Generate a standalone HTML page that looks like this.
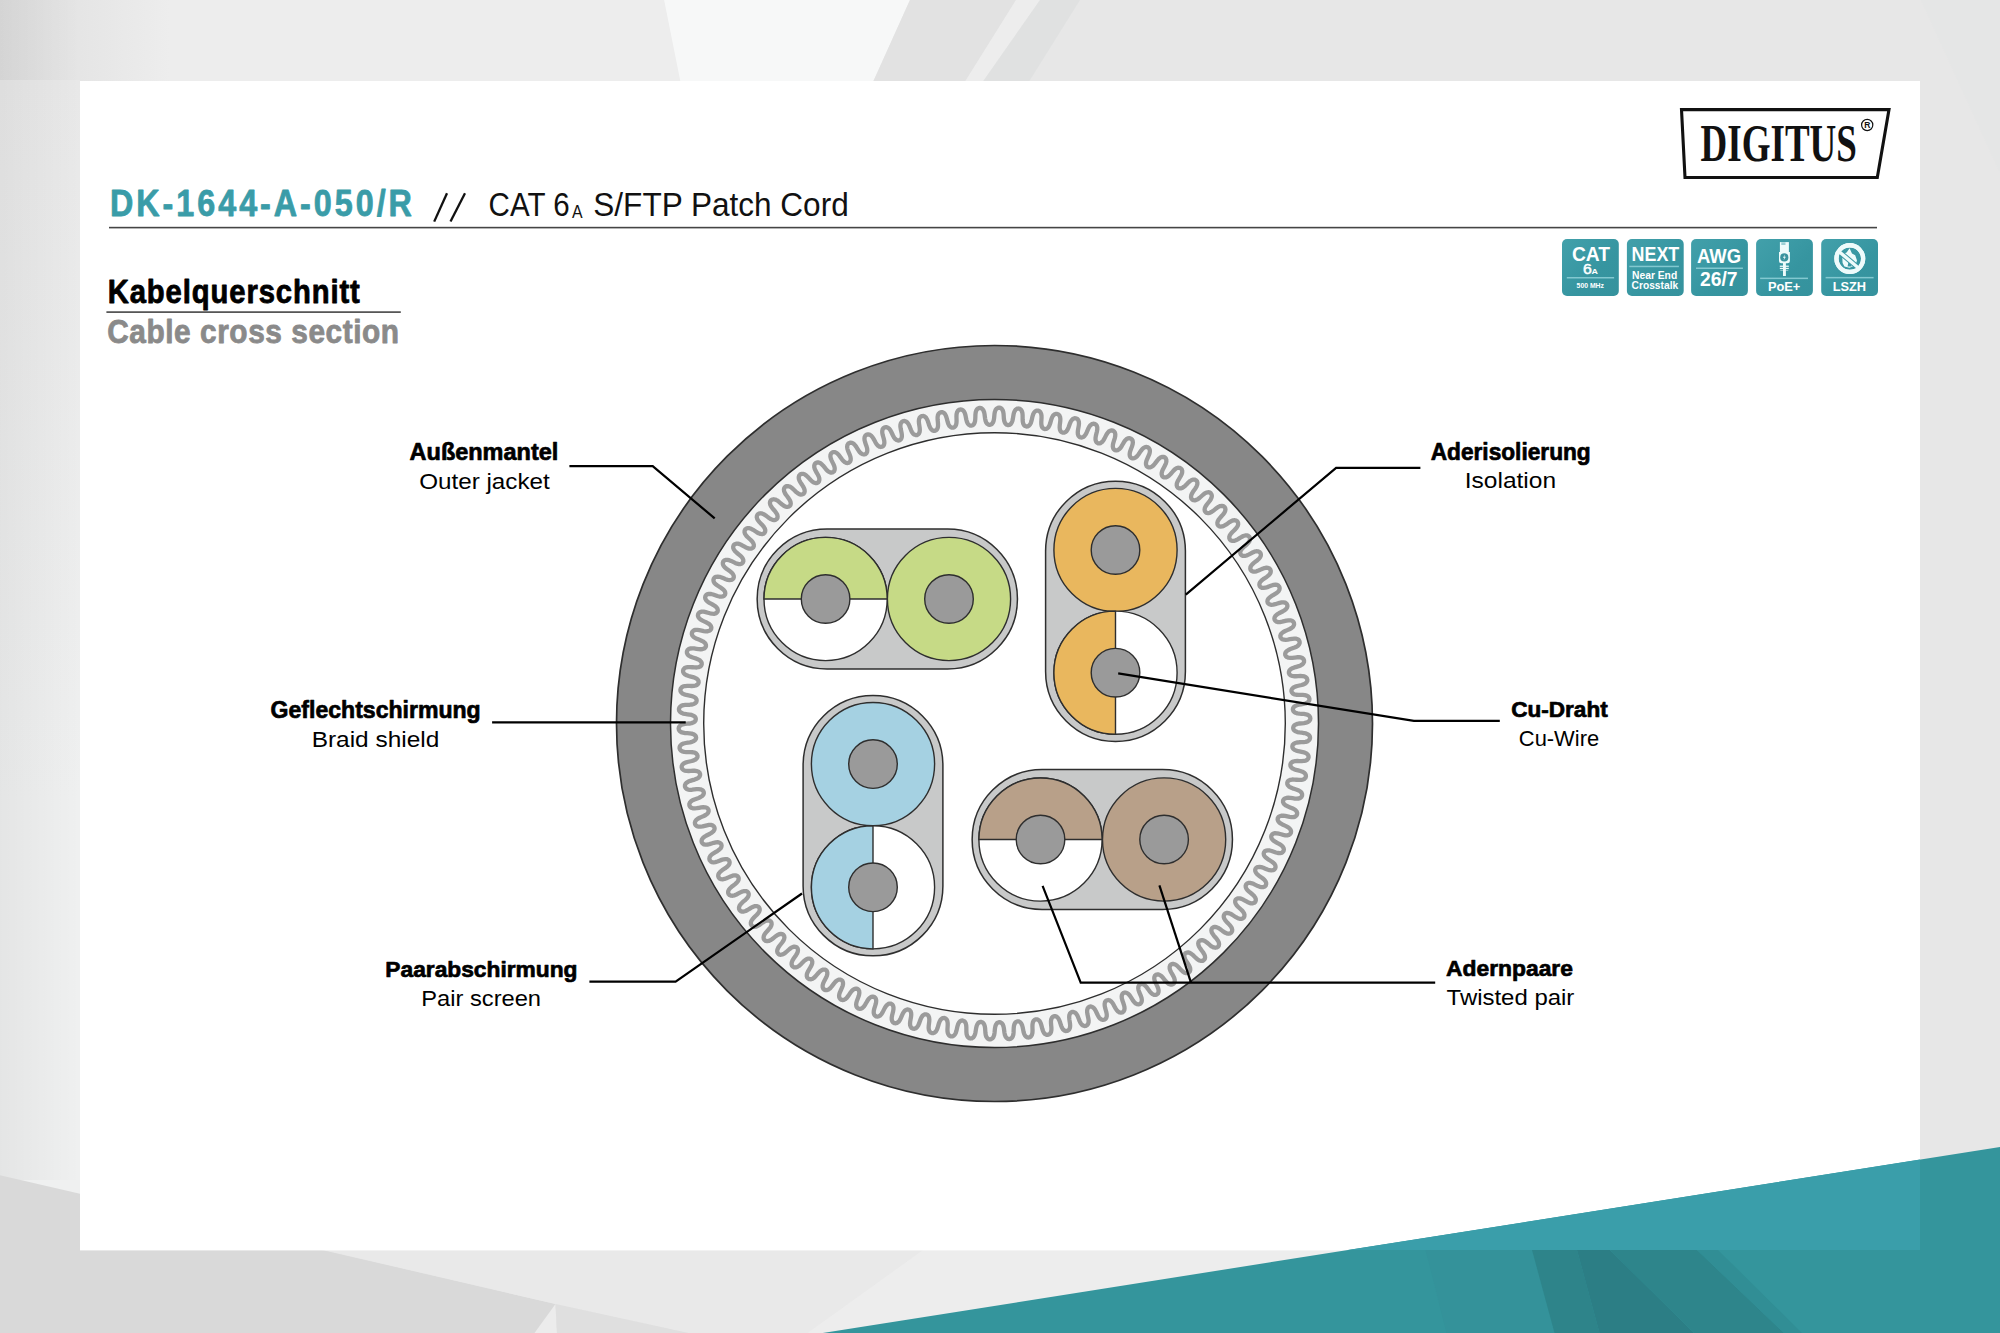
<!DOCTYPE html>
<html><head><meta charset="utf-8"><title>DK-1644-A-050/R Cable cross section</title>
<style>
html,body{margin:0;padding:0;background:#e7e7e7;}
body{width:2000px;height:1333px;overflow:hidden;font-family:"Liberation Sans",sans-serif;}
svg{display:block;}
</style></head>
<body>
<svg width="2000" height="1333" viewBox="0 0 2000 1333">
<defs><linearGradient id="bgL" x1="0" y1="0" x2="1" y2="1"><stop offset="0" stop-color="#e3e3e3"/><stop offset="0.5" stop-color="#ececec"/><stop offset="1" stop-color="#eeefef"/></linearGradient><linearGradient id="badge" x1="0" y1="0" x2="1" y2="1"><stop offset="0" stop-color="#42a0aa"/><stop offset="0.4" stop-color="#3a99a4"/><stop offset="0.6" stop-color="#3695a0"/><stop offset="1" stop-color="#35929d"/></linearGradient></defs>
<rect x="0" y="0" width="2000" height="1333" fill="#e7e7e7"/>
<defs><linearGradient id="topL" gradientUnits="userSpaceOnUse" x1="0" y1="0" x2="170" y2="0"><stop offset="0" stop-color="#dedede"/><stop offset="1" stop-color="#ededed"/></linearGradient><linearGradient id="colL" gradientUnits="userSpaceOnUse" x1="0" y1="80" x2="0" y2="800"><stop offset="0" stop-color="#e8e8e8"/><stop offset="1" stop-color="#eff0f0"/></linearGradient><linearGradient id="colLh" gradientUnits="userSpaceOnUse" x1="0" y1="0" x2="80" y2="0"><stop offset="0" stop-color="#000" stop-opacity="0.045"/><stop offset="1" stop-color="#000" stop-opacity="0"/></linearGradient></defs>
<polygon points="0,0 664,0 680.2,81 0,81" fill="url(#topL)"/>
<rect x="0" y="80" width="80" height="1170" fill="url(#colL)"/>
<rect x="0" y="0" width="80" height="1180" fill="url(#colLh)"/>
<polygon points="664,0 910,0 873.5,81 680.2,81" fill="#f7f8f8"/>
<polygon points="910,0 1016,0 965.4,81 873.5,81" fill="#e2e2e2"/>
<polygon points="1016,0 1040,0 983.3,81 965.4,81" fill="#ededed"/>
<polygon points="1040,0 1080,0 1029.4,81 983.3,81" fill="#e0e1e1"/>
<polygon points="1921,0 2000,0 2000,173" fill="#e5e6e6"/>
<polygon points="0,1175.3 555.5,1304 557,1333 0,1333" fill="#d9d9d9"/>
<polygon points="0,1250 923,1250 807.5,1333 688.5,1333 555.5,1304 324.5,1250" fill="#e9e9e9"/>
<polygon points="555.5,1304 534.5,1333 557,1333" fill="#ececec"/>
<polygon points="555.5,1304 688.5,1333 557,1333" fill="#dfdfdf"/>
<polygon points="923,1250 1920,1250 1920,1333 807.5,1333" fill="#ededed"/>
<polygon points="1920,1150 2000,1150 2000,1333 1920,1333" fill="#e7e7e7"/>
<rect x="80" y="81" width="1840" height="1169.4" fill="#ffffff"/>
<polygon points="822.8,1333 2000,1147.0 2000,1333" fill="#34959c"/>
<polygon points="1348.1,1250 1920,1159.6 1920,1250" fill="#3a9eaa"/>
<polygon points="1425.5,1250 1532,1250 1554.5,1333 1446.5,1333" fill="#34929a"/>
<polygon points="1532,1250 1577,1250 1599.5,1333 1554.5,1333" fill="#2e848a"/>
<polygon points="1577,1250 1610,1250 1694,1333 1599.5,1333" fill="#2c7e85"/>
<polygon points="1610,1250 1697,1250 1784,1333 1694,1333" fill="#2e858b"/>
<polygon points="1697,1250 1718,1250 1802,1333 1784,1333" fill="#318e95"/>
<text transform="matrix(0.87 0 0 1 110.00 215.60)" x="0" y="0" font-family="Liberation Sans" font-weight="bold" font-size="37.10" letter-spacing="3.435" fill="#3a9ca8"  stroke="#3a9ca8" stroke-width="0.8" stroke-linejoin="round">DK-1644-A-050/R</text>
<line x1="434.2" y1="221.6" x2="447" y2="193.3" stroke="#111" stroke-width="2.3"/>
<line x1="450.5" y1="221.6" x2="465" y2="193.3" stroke="#111" stroke-width="2.3"/>
<text x="488.60" y="216.10" font-family="Liberation Sans" font-weight="normal" font-size="32.61" textLength="80.98" lengthAdjust="spacingAndGlyphs" fill="#111" >CAT 6</text>
<text x="571.90" y="218.40" font-family="Liberation Sans" font-weight="normal" font-size="17.97" textLength="10.59" lengthAdjust="spacingAndGlyphs" fill="#111" >A</text>
<text x="593.30" y="216.10" font-family="Liberation Sans" font-weight="normal" font-size="32.61" textLength="255.43" lengthAdjust="spacingAndGlyphs" fill="#111" >S/FTP Patch Cord</text>
<rect x="109" y="226.8" width="1768" height="1.6" fill="#454545"/>
<text transform="matrix(0.9 0 0 1 107.70 302.80)" x="0" y="0" font-family="Liberation Sans" font-weight="bold" font-size="32.46" letter-spacing="1.012" fill="#000"  stroke="#000" stroke-width="0.8" stroke-linejoin="round">Kabelquerschnitt</text>
<rect x="106.4" y="311.3" width="294.4" height="1.6" fill="#454545"/>
<text transform="matrix(0.92 0 0 1 107.20 342.80)" x="0" y="0" font-family="Liberation Sans" font-weight="bold" font-size="32.46" letter-spacing="0.594" fill="#8a8a8a"  stroke="#8a8a8a" stroke-width="0.8" stroke-linejoin="round">Cable cross section</text>
<polygon points="1681.5,109.6 1889,109.6 1877.3,177.5 1685,177.5" fill="none" stroke="#111" stroke-width="3.1" stroke-linejoin="miter"/>
<text x="1700.60" y="160.90" font-family="Liberation Serif" font-weight="bold" font-size="51.91" textLength="156.25" lengthAdjust="spacingAndGlyphs" fill="#111" >DIGITUS</text>
<circle cx="1867.2" cy="125" r="5.6" fill="none" stroke="#111" stroke-width="1.2"/>
<text x="1867.2" y="128.3" font-family="Liberation Sans" font-weight="bold" font-size="8.5" text-anchor="middle" fill="#111">R</text>
<rect x="1562.0" y="239.1" width="56.8" height="56.8" rx="5" fill="url(#badge)"/>
<rect x="1626.9" y="239.1" width="56.8" height="56.8" rx="5" fill="url(#badge)"/>
<rect x="1691.1" y="239.1" width="56.8" height="56.8" rx="5" fill="url(#badge)"/>
<rect x="1756.1" y="239.1" width="56.8" height="56.8" rx="5" fill="url(#badge)"/>
<rect x="1821.2" y="239.1" width="56.8" height="56.8" rx="5" fill="url(#badge)"/>
<text x="1571.90" y="260.70" font-family="Liberation Sans" font-weight="bold" font-size="21.01" textLength="38.12" lengthAdjust="spacingAndGlyphs" fill="#fff" >CAT</text>
<text x="1583.00" y="273.90" font-family="Liberation Sans" font-weight="normal" font-size="14.78" textLength="8.82" lengthAdjust="spacingAndGlyphs" fill="#fff"  stroke="#fff" stroke-width="0.5" stroke-linejoin="round">6</text>
<text x="1591.50" y="273.90" font-family="Liberation Sans" font-weight="bold" font-size="7.83" textLength="6.40" lengthAdjust="spacingAndGlyphs" fill="#fff" >A</text>
<rect x="1566.8" y="277" width="47.3" height="1.5" fill="#82c8d0"/>
<text x="1576.60" y="288.00" font-family="Liberation Sans" font-weight="bold" font-size="6.81" textLength="27.39" lengthAdjust="spacingAndGlyphs" fill="#fff" >500 MHz</text>
<text x="1631.60" y="261.00" font-family="Liberation Sans" font-weight="bold" font-size="20.00" textLength="47.59" lengthAdjust="spacingAndGlyphs" fill="#fff" >NEXT</text>
<rect x="1629.3" y="265.7" width="49.6" height="1.5" fill="#82c8d0"/>
<text x="1632.00" y="278.90" font-family="Liberation Sans" font-weight="bold" font-size="10.72" textLength="45.20" lengthAdjust="spacingAndGlyphs" fill="#fff" >Near End</text>
<text x="1631.60" y="288.70" font-family="Liberation Sans" font-weight="bold" font-size="10.80" textLength="46.58" lengthAdjust="spacingAndGlyphs" fill="#fff" >Crosstalk</text>
<text x="1697.00" y="262.90" font-family="Liberation Sans" font-weight="bold" font-size="20.00" textLength="44.08" lengthAdjust="spacingAndGlyphs" fill="#fff" >AWG</text>
<rect x="1696" y="267.5" width="46.9" height="1.5" fill="#82c8d0"/>
<text x="1700.00" y="285.80" font-family="Liberation Sans" font-weight="bold" font-size="19.57" textLength="37.58" lengthAdjust="spacingAndGlyphs" fill="#fff" >26/7</text>
<g fill="#eefbfb"><rect x="1779.9" y="242.1" width="9" height="10"/><path d="M1779,251.9 L1789.9,251.9 L1789.9,261 Q1789.9,263.3 1787.5,263.3 L1781.4,263.3 Q1779,263.3 1779,261 Z"/><rect x="1779.8" y="265.6" width="9" height="1.3"/><rect x="1779.8" y="267.8" width="9" height="1.3"/><rect x="1780.3" y="270" width="8" height="1" opacity="0.45"/><rect x="1783" y="263" width="2.9" height="13"/></g>
<rect x="1781.3" y="242.4" width="4.2" height="2.6" fill="#3a9aa5" opacity="0.45"/>
<circle cx="1784.3" cy="257.4" r="4.1" fill="#3a939e"/>
<path d="M1785.2,254.2 L1782.9,257.8 L1784.4,257.8 L1783.5,260.6 L1785.9,256.8 L1784.4,256.8 Z" fill="#eefbfb"/>
<rect x="1760.1" y="277.6" width="47.9" height="1.5" fill="#82c8d0"/>
<text x="1767.90" y="290.70" font-family="Liberation Sans" font-weight="bold" font-size="13.19" textLength="32.38" lengthAdjust="spacingAndGlyphs" fill="#fff" >PoE+</text>
<circle cx="1849.8" cy="258.6" r="13.35" fill="none" stroke="#eefbfb" stroke-width="4.3"/>
<path d="M1842.6,263 L1842.3,258 L1844.4,253.6 L1846.6,252.6 L1849.6,248.2 L1852,253.4 L1855.2,255.3 L1857,260.5 L1855.4,265.6 L1849.5,267.8 L1844.4,266.6 Z" fill="#eefbfb"/>
<path d="M1847.6,266.5 L1848.3,262.8 L1849.4,260.8 L1850.6,263.2 L1851.6,266.5 Z" fill="#3a98a3"/>
<line x1="1838.6" y1="251.2" x2="1857.6" y2="267.2" stroke="#3a98a3" stroke-width="5.4"/>
<line x1="1838.6" y1="251.2" x2="1857.6" y2="267.2" stroke="#eefbfb" stroke-width="3.4"/>
<circle cx="1849.8" cy="258.6" r="13.35" fill="none" stroke="#eefbfb" stroke-width="4.3"/>
<rect x="1825.6" y="276.9" width="48" height="1.5" fill="#82c8d0"/>
<text x="1832.70" y="290.70" font-family="Liberation Sans" font-weight="bold" font-size="13.62" textLength="33.41" lengthAdjust="spacingAndGlyphs" fill="#fff" >LSZH</text>
<circle cx="994.5" cy="723.5" r="378" fill="#878787" stroke="#2e2e2e" stroke-width="1.7"/>
<circle cx="994.5" cy="723.5" r="324" fill="#f3f4f4" stroke="#2e2e2e" stroke-width="1.5"/>
<path d="M999.13,407.63 L1000.52,407.95 L1001.74,408.84 L1002.67,410.23 L1003.27,412.02 L1003.59,414.11 L1003.74,416.34 L1003.88,418.57 L1004.18,420.65 L1004.75,422.46 L1005.62,423.85 L1006.76,424.76 L1008.07,425.11 L1009.41,424.88 L1010.63,424.08 L1011.63,422.77 L1012.35,421.03 L1012.84,418.98 L1013.19,416.77 L1013.54,414.56 L1014.05,412.51 L1014.80,410.78 L1015.86,409.48 L1017.15,408.71 L1018.57,408.52 L1019.94,408.92 L1021.10,409.88 L1021.94,411.32 L1022.43,413.15 L1022.61,415.25 L1022.63,417.49 L1022.64,419.73 L1022.81,421.83 L1023.26,423.66 L1024.05,425.11 L1025.13,426.08 L1026.42,426.51 L1027.77,426.36 L1029.03,425.64 L1030.11,424.39 L1030.94,422.70 L1031.55,420.68 L1032.04,418.50 L1032.53,416.32 L1033.15,414.31 L1034.02,412.62 L1035.15,411.39 L1036.49,410.70 L1037.91,410.60 L1039.26,411.08 L1040.36,412.11 L1041.11,413.60 L1041.48,415.46 L1041.54,417.57 L1041.41,419.80 L1041.29,422.03 L1041.33,424.14 L1041.67,426.00 L1042.36,427.49 L1043.38,428.53 L1044.64,429.04 L1045.99,428.97 L1047.30,428.33 L1048.45,427.15 L1049.39,425.51 L1050.12,423.54 L1050.74,421.39 L1051.36,419.24 L1052.11,417.27 L1053.08,415.64 L1054.28,414.48 L1055.66,413.88 L1057.09,413.86 L1058.40,414.43 L1059.44,415.52 L1060.10,417.06 L1060.36,418.94 L1060.28,421.04 L1060.02,423.27 L1059.75,425.49 L1059.67,427.59 L1059.89,429.46 L1060.49,431.00 L1061.45,432.10 L1062.67,432.68 L1064.03,432.70 L1065.37,432.14 L1066.59,431.04 L1067.63,429.46 L1068.48,427.53 L1069.23,425.43 L1069.99,423.32 L1070.86,421.40 L1071.92,419.83 L1073.19,418.75 L1074.61,418.23 L1076.04,418.30 L1077.31,418.95 L1078.28,420.11 L1078.84,421.68 L1078.98,423.57 L1078.78,425.67 L1078.38,427.87 L1077.98,430.07 L1077.76,432.16 L1077.87,434.05 L1078.37,435.62 L1079.26,436.77 L1080.45,437.43 L1081.80,437.54 L1083.18,437.06 L1084.46,436.03 L1085.59,434.52 L1086.56,432.65 L1087.44,430.59 L1088.32,428.54 L1089.31,426.67 L1090.47,425.17 L1091.80,424.17 L1093.25,423.74 L1094.67,423.90 L1095.90,424.63 L1096.80,425.84 L1097.26,427.45 L1097.28,429.34 L1096.95,431.42 L1096.42,433.59 L1095.88,435.76 L1095.54,437.84 L1095.53,439.73 L1095.94,441.33 L1096.75,442.53 L1097.89,443.27 L1099.24,443.45 L1100.64,443.06 L1101.99,442.11 L1103.21,440.67 L1104.29,438.87 L1105.30,436.87 L1106.30,434.87 L1107.40,433.07 L1108.65,431.65 L1110.05,430.73 L1111.52,430.39 L1112.92,430.64 L1114.11,431.44 L1114.93,432.70 L1115.29,434.33 L1115.20,436.23 L1114.74,438.28 L1114.07,440.42 L1113.40,442.55 L1112.93,444.60 L1112.81,446.49 L1113.12,448.11 L1113.85,449.36 L1114.95,450.16 L1116.28,450.43 L1117.70,450.13 L1119.11,449.26 L1120.41,447.90 L1121.61,446.17 L1122.73,444.23 L1123.86,442.30 L1125.07,440.57 L1126.40,439.23 L1127.85,438.40 L1129.34,438.15 L1130.73,438.48 L1131.86,439.35 L1132.60,440.67 L1132.86,442.32 L1132.65,444.20 L1132.07,446.23 L1131.27,448.32 L1130.47,450.40 L1129.88,452.42 L1129.64,454.30 L1129.84,455.93 L1130.50,457.23 L1131.55,458.10 L1132.86,458.45 L1134.30,458.23 L1135.75,457.45 L1137.14,456.17 L1138.44,454.52 L1139.68,452.66 L1140.93,450.80 L1142.24,449.15 L1143.65,447.89 L1145.15,447.15 L1146.65,446.99 L1148.01,447.41 L1149.09,448.35 L1149.75,449.70 L1149.91,451.37 L1149.59,453.24 L1148.88,455.22 L1147.95,457.26 L1147.03,459.29 L1146.31,461.27 L1145.95,463.13 L1146.06,464.77 L1146.64,466.11 L1147.63,467.04 L1148.91,467.47 L1150.36,467.34 L1151.86,466.65 L1153.33,465.46 L1154.73,463.89 L1156.08,462.11 L1157.44,460.33 L1158.85,458.76 L1160.34,457.59 L1161.88,456.95 L1163.38,456.88 L1164.72,457.38 L1165.74,458.39 L1166.31,459.78 L1166.37,461.45 L1165.93,463.29 L1165.10,465.23 L1164.05,467.21 L1163.00,469.18 L1162.16,471.11 L1161.69,472.94 L1161.70,474.59 L1162.19,475.96 L1163.12,476.95 L1164.38,477.46 L1165.84,477.42 L1167.38,476.83 L1168.91,475.73 L1170.40,474.25 L1171.86,472.55 L1173.33,470.86 L1174.83,469.38 L1176.39,468.31 L1177.97,467.75 L1179.48,467.78 L1180.78,468.37 L1181.73,469.43 L1182.22,470.86 L1182.17,472.53 L1181.62,474.34 L1180.67,476.22 L1179.51,478.13 L1178.34,480.04 L1177.38,481.91 L1176.80,483.71 L1176.71,485.36 L1177.12,486.75 L1177.98,487.80 L1179.21,488.38 L1180.66,488.44 L1182.23,487.94 L1183.83,486.94 L1185.42,485.55 L1186.98,483.95 L1188.54,482.35 L1190.13,480.97 L1191.75,479.99 L1193.36,479.53 L1194.87,479.65 L1196.13,480.32 L1197.02,481.44 L1197.42,482.89 L1197.27,484.56 L1196.61,486.33 L1195.54,488.15 L1194.26,489.99 L1192.98,491.82 L1191.91,493.63 L1191.22,495.39 L1191.02,497.02 L1191.34,498.45 L1192.14,499.54 L1193.33,500.20 L1194.78,500.34 L1196.38,499.94 L1198.04,499.04 L1199.70,497.75 L1201.36,496.25 L1203.02,494.75 L1204.69,493.47 L1206.37,492.59 L1208.01,492.24 L1209.50,492.45 L1210.72,493.19 L1211.54,494.36 L1211.84,495.84 L1211.59,497.49 L1210.82,499.23 L1209.65,500.98 L1208.26,502.73 L1206.86,504.48 L1205.68,506.22 L1204.89,507.93 L1204.59,509.55 L1204.82,510.99 L1205.56,512.13 L1206.70,512.86 L1208.14,513.09 L1209.76,512.79 L1211.47,512.00 L1213.21,510.81 L1214.96,509.42 L1216.70,508.02 L1218.45,506.85 L1220.18,506.07 L1221.84,505.82 L1223.31,506.12 L1224.49,506.94 L1225.23,508.16 L1225.44,509.65 L1225.09,511.29 L1224.22,512.97 L1222.94,514.64 L1221.44,516.31 L1219.95,517.96 L1218.66,519.63 L1217.76,521.29 L1217.36,522.89 L1217.51,524.34 L1218.17,525.52 L1219.26,526.32 L1220.68,526.65 L1222.32,526.45 L1224.08,525.75 L1225.89,524.68 L1227.72,523.39 L1229.55,522.11 L1231.37,521.04 L1233.14,520.38 L1234.81,520.23 L1236.26,520.62 L1237.38,521.51 L1238.05,522.77 L1238.17,524.28 L1237.72,525.89 L1236.74,527.51 L1235.37,529.10 L1233.77,530.67 L1232.17,532.23 L1230.78,533.82 L1229.78,535.42 L1229.29,536.99 L1229.35,538.45 L1229.93,539.67 L1230.98,540.53 L1232.37,540.94 L1234.02,540.84 L1235.82,540.26 L1237.69,539.30 L1239.59,538.13 L1241.50,536.96 L1243.38,536.01 L1245.19,535.46 L1246.86,535.41 L1248.29,535.89 L1249.36,536.84 L1249.94,538.15 L1249.97,539.65 L1249.42,541.23 L1248.35,542.79 L1246.88,544.30 L1245.19,545.76 L1243.49,547.23 L1242.01,548.72 L1240.92,550.26 L1240.33,551.80 L1240.29,553.26 L1240.80,554.51 L1241.79,555.44 L1243.16,555.93 L1244.81,555.94 L1246.64,555.47 L1248.57,554.62 L1250.54,553.57 L1252.52,552.52 L1254.45,551.69 L1256.29,551.25 L1257.96,551.30 L1259.36,551.87 L1260.36,552.89 L1260.87,554.22 L1260.81,555.73 L1260.16,557.27 L1258.99,558.76 L1257.43,560.18 L1255.65,561.53 L1253.87,562.89 L1252.30,564.29 L1251.11,565.76 L1250.43,567.26 L1250.31,568.71 L1250.74,569.99 L1251.67,570.98 L1253.01,571.56 L1254.65,571.66 L1256.50,571.31 L1258.48,570.58 L1260.52,569.65 L1262.55,568.73 L1264.54,568.02 L1266.40,567.69 L1268.07,567.85 L1269.42,568.50 L1270.36,569.58 L1270.79,570.94 L1270.63,572.44 L1269.89,573.94 L1268.63,575.36 L1266.98,576.67 L1265.13,577.92 L1263.27,579.16 L1261.61,580.46 L1260.34,581.85 L1259.56,583.31 L1259.35,584.75 L1259.70,586.06 L1260.57,587.10 L1261.87,587.76 L1263.50,587.97 L1265.38,587.72 L1267.39,587.12 L1269.48,586.32 L1271.57,585.52 L1273.59,584.93 L1275.48,584.72 L1277.13,584.98 L1278.44,585.72 L1279.32,586.85 L1279.65,588.24 L1279.41,589.73 L1278.58,591.18 L1277.23,592.51 L1275.51,593.72 L1273.58,594.85 L1271.64,595.98 L1269.91,597.18 L1268.55,598.49 L1267.69,599.89 L1267.39,601.32 L1267.66,602.65 L1268.46,603.74 L1269.72,604.48 L1271.34,604.78 L1273.22,604.66 L1275.27,604.18 L1277.41,603.51 L1279.54,602.84 L1281.60,602.38 L1283.49,602.28 L1285.12,602.64 L1286.39,603.46 L1287.19,604.64 L1287.44,606.05 L1287.10,607.52 L1286.18,608.92 L1284.76,610.17 L1282.96,611.27 L1280.97,612.28 L1278.97,613.28 L1277.17,614.37 L1275.73,615.60 L1274.78,616.94 L1274.39,618.35 L1274.58,619.69 L1275.31,620.83 L1276.52,621.65 L1278.12,622.05 L1280.01,622.04 L1282.09,621.69 L1284.26,621.15 L1286.43,620.62 L1288.51,620.28 L1290.40,620.30 L1292.01,620.76 L1293.22,621.66 L1293.95,622.89 L1294.11,624.31 L1293.69,625.75 L1292.68,627.09 L1291.19,628.25 L1289.32,629.24 L1287.27,630.12 L1285.21,631.01 L1283.35,631.98 L1281.84,633.11 L1280.81,634.40 L1280.34,635.78 L1280.44,637.13 L1281.10,638.31 L1282.26,639.20 L1283.83,639.70 L1285.71,639.81 L1287.81,639.59 L1290.01,639.18 L1292.21,638.78 L1294.30,638.58 L1296.19,638.71 L1297.77,639.27 L1298.93,640.24 L1299.58,641.51 L1299.65,642.94 L1299.13,644.36 L1298.05,645.63 L1296.49,646.70 L1294.57,647.57 L1292.46,648.33 L1290.36,649.08 L1288.43,649.94 L1286.86,650.97 L1285.75,652.20 L1285.19,653.54 L1285.22,654.90 L1285.80,656.12 L1286.90,657.07 L1288.44,657.67 L1290.31,657.90 L1292.42,657.80 L1294.64,657.54 L1296.86,657.27 L1298.96,657.19 L1300.84,657.45 L1302.38,658.10 L1303.47,659.14 L1304.04,660.45 L1304.03,661.88 L1303.43,663.26 L1302.27,664.46 L1300.64,665.43 L1298.67,666.19 L1296.53,666.81 L1294.38,667.43 L1292.41,668.17 L1290.77,669.11 L1289.59,670.26 L1288.95,671.57 L1288.89,672.92 L1289.40,674.18 L1290.44,675.20 L1291.93,675.89 L1293.79,676.23 L1295.90,676.27 L1298.13,676.14 L1300.36,676.01 L1302.47,676.06 L1304.33,676.43 L1305.82,677.18 L1306.85,678.28 L1307.34,679.63 L1307.24,681.05 L1306.55,682.39 L1305.32,683.52 L1303.64,684.39 L1301.62,685.02 L1299.44,685.51 L1297.26,686.00 L1295.25,686.62 L1293.55,687.45 L1292.31,688.53 L1291.59,689.80 L1291.44,691.14 L1291.87,692.43 L1292.85,693.51 L1294.30,694.29 L1296.13,694.74 L1298.23,694.91 L1300.47,694.92 L1302.70,694.93 L1304.80,695.11 L1306.64,695.59 L1308.08,696.43 L1309.04,697.60 L1309.45,698.97 L1309.26,700.38 L1308.49,701.68 L1307.19,702.73 L1305.46,703.49 L1303.41,704.00 L1301.20,704.36 L1298.99,704.71 L1296.95,705.20 L1295.21,705.93 L1293.89,706.93 L1293.10,708.15 L1292.87,709.48 L1293.22,710.79 L1294.13,711.93 L1295.53,712.80 L1297.33,713.37 L1299.42,713.67 L1301.65,713.81 L1303.88,713.96 L1305.96,714.27 L1307.76,714.86 L1309.15,715.79 L1310.04,717.01 L1310.36,718.40 L1310.09,719.80 L1309.24,721.05 L1307.88,722.02 L1306.10,722.68 L1304.03,723.05 L1301.80,723.27 L1299.57,723.49 L1297.50,723.85 L1295.72,724.47 L1294.35,725.39 L1293.48,726.56 L1293.17,727.88 L1293.44,729.21 L1294.27,730.40 L1295.62,731.36 L1297.38,732.03 L1299.44,732.45 L1301.66,732.74 L1303.88,733.02 L1305.94,733.46 L1307.70,734.16 L1309.03,735.17 L1309.84,736.45 L1310.07,737.86 L1309.71,739.24 L1308.79,740.43 L1307.37,741.32 L1305.56,741.86 L1303.47,742.11 L1301.23,742.19 L1299.00,742.27 L1296.90,742.51 L1295.09,743.02 L1293.66,743.84 L1292.72,744.96 L1292.33,746.26 L1292.52,747.60 L1293.28,748.84 L1294.56,749.88 L1296.28,750.66 L1298.31,751.21 L1300.51,751.63 L1302.71,752.05 L1304.74,752.61 L1306.45,753.42 L1307.72,754.52 L1308.45,755.83 L1308.59,757.26 L1308.15,758.61 L1307.15,759.75 L1305.68,760.54 L1303.84,760.97 L1301.73,761.09 L1299.50,761.04 L1297.26,760.98 L1295.16,761.09 L1293.31,761.48 L1291.84,762.22 L1290.84,763.28 L1290.37,764.55 L1290.47,765.90 L1291.15,767.19 L1292.37,768.30 L1294.04,769.19 L1296.03,769.86 L1298.20,770.41 L1300.36,770.97 L1302.36,771.66 L1304.02,772.57 L1305.21,773.74 L1305.86,775.10 L1305.92,776.53 L1305.39,777.86 L1304.33,778.93 L1302.81,779.63 L1300.94,779.95 L1298.84,779.94 L1296.61,779.74 L1294.38,779.55 L1292.28,779.52 L1290.41,779.81 L1288.89,780.45 L1287.82,781.44 L1287.28,782.68 L1287.30,784.04 L1287.90,785.37 L1289.05,786.55 L1290.66,787.54 L1292.61,788.34 L1294.73,789.02 L1296.86,789.71 L1298.81,790.52 L1300.41,791.53 L1301.53,792.77 L1302.09,794.17 L1302.06,795.60 L1301.46,796.89 L1300.33,797.89 L1298.77,798.50 L1296.89,798.70 L1294.79,798.56 L1292.57,798.23 L1290.36,797.90 L1288.26,797.75 L1286.38,797.92 L1284.83,798.47 L1283.70,799.39 L1283.08,800.60 L1283.02,801.95 L1283.54,803.31 L1284.61,804.57 L1286.15,805.65 L1288.05,806.56 L1290.13,807.38 L1292.21,808.20 L1294.11,809.12 L1295.64,810.24 L1296.68,811.54 L1297.16,812.97 L1297.04,814.40 L1296.35,815.65 L1295.17,816.58 L1293.58,817.09 L1291.69,817.18 L1289.60,816.91 L1287.41,816.44 L1285.22,815.97 L1283.13,815.69 L1281.25,815.74 L1279.66,816.20 L1278.48,817.05 L1277.79,818.21 L1277.64,819.56 L1278.07,820.95 L1279.06,822.27 L1280.54,823.45 L1282.38,824.48 L1284.41,825.42 L1286.43,826.36 L1288.27,827.40 L1289.73,828.61 L1290.69,829.98 L1291.08,831.43 L1290.87,832.85 L1290.11,834.06 L1288.87,834.91 L1287.25,835.33 L1285.36,835.29 L1283.29,834.90 L1281.13,834.30 L1278.98,833.70 L1276.91,833.29 L1275.02,833.22 L1273.42,833.58 L1272.18,834.36 L1271.42,835.47 L1271.19,836.81 L1271.54,838.23 L1272.44,839.60 L1273.85,840.87 L1275.62,842.01 L1277.58,843.07 L1279.55,844.14 L1281.31,845.29 L1282.70,846.58 L1283.57,848.01 L1283.87,849.49 L1283.58,850.88 L1282.74,852.04 L1281.45,852.82 L1279.81,853.14 L1277.92,852.99 L1275.88,852.46 L1273.77,851.73 L1271.65,851.00 L1269.62,850.46 L1267.74,850.28 L1266.11,850.54 L1264.83,851.24 L1264.00,852.31 L1263.69,853.63 L1263.95,855.06 L1264.77,856.49 L1266.09,857.84 L1267.79,859.09 L1269.68,860.27 L1271.58,861.46 L1273.27,862.72 L1274.57,864.09 L1275.36,865.57 L1275.57,867.06 L1275.19,868.44 L1274.28,869.55 L1272.95,870.24 L1271.29,870.46 L1269.41,870.19 L1267.41,869.54 L1265.34,868.68 L1263.28,867.82 L1261.28,867.16 L1259.42,866.86 L1257.77,867.02 L1256.46,867.64 L1255.56,868.66 L1255.17,869.95 L1255.34,871.40 L1256.07,872.88 L1257.31,874.31 L1258.92,875.66 L1260.74,876.95 L1262.56,878.25 L1264.17,879.62 L1265.39,881.07 L1266.08,882.59 L1266.19,884.09 L1265.73,885.44 L1264.76,886.49 L1263.38,887.11 L1261.72,887.22 L1259.86,886.83 L1257.90,886.06 L1255.89,885.08 L1253.88,884.09 L1251.93,883.31 L1250.09,882.90 L1248.44,882.96 L1247.09,883.49 L1246.13,884.45 L1245.66,885.72 L1245.74,887.18 L1246.38,888.70 L1247.52,890.20 L1249.05,891.65 L1250.79,893.05 L1252.53,894.46 L1254.05,895.92 L1255.17,897.45 L1255.77,899.01 L1255.79,900.51 L1255.25,901.83 L1254.21,902.82 L1252.80,903.35 L1251.13,903.36 L1249.30,902.86 L1247.39,901.97 L1245.45,900.86 L1243.51,899.76 L1241.60,898.85 L1239.79,898.33 L1238.14,898.29 L1236.76,898.74 L1235.74,899.64 L1235.20,900.88 L1235.19,902.33 L1235.73,903.89 L1236.78,905.46 L1238.22,907.00 L1239.87,908.51 L1241.51,910.02 L1242.94,911.57 L1243.97,913.16 L1244.47,914.76 L1244.40,916.26 L1243.78,917.55 L1242.68,918.47 L1241.24,918.91 L1239.57,918.81 L1237.78,918.21 L1235.93,917.20 L1234.05,915.98 L1232.18,914.75 L1230.34,913.73 L1228.56,913.10 L1226.92,912.95 L1225.51,913.32 L1224.44,914.15 L1223.82,915.36 L1223.72,916.81 L1224.17,918.40 L1225.12,920.03 L1226.46,921.65 L1228.01,923.26 L1229.56,924.87 L1230.89,926.51 L1231.82,928.16 L1232.23,929.78 L1232.06,931.28 L1231.36,932.53 L1230.21,933.38 L1228.74,933.73 L1227.08,933.53 L1225.33,932.81 L1223.54,931.70 L1221.75,930.36 L1219.96,929.02 L1218.18,927.89 L1216.45,927.15 L1214.82,926.90 L1213.39,927.18 L1212.27,927.95 L1211.57,929.11 L1211.38,930.56 L1211.73,932.17 L1212.58,933.85 L1213.82,935.56 L1215.27,937.26 L1216.72,938.96 L1217.95,940.68 L1218.77,942.38 L1219.08,944.03 L1218.82,945.51 L1218.04,946.71 L1216.84,947.49 L1215.36,947.75 L1213.71,947.45 L1212.01,946.63 L1210.29,945.40 L1208.58,943.96 L1206.88,942.51 L1205.17,941.27 L1203.49,940.43 L1201.88,940.08 L1200.43,940.27 L1199.27,940.97 L1198.50,942.08 L1198.23,943.52 L1198.48,945.14 L1199.22,946.88 L1200.35,948.66 L1201.69,950.44 L1203.03,952.24 L1204.15,954.02 L1204.87,955.77 L1205.07,957.43 L1204.73,958.90 L1203.88,960.05 L1202.63,960.75 L1201.13,960.92 L1199.51,960.52 L1197.86,959.59 L1196.22,958.26 L1194.61,956.72 L1193.00,955.17 L1191.37,953.83 L1189.74,952.88 L1188.15,952.43 L1186.70,952.54 L1185.49,953.16 L1184.66,954.23 L1184.30,955.64 L1184.45,957.28 L1185.08,959.06 L1186.10,960.90 L1187.33,962.77 L1188.56,964.64 L1189.57,966.49 L1190.18,968.28 L1190.27,969.95 L1189.84,971.39 L1188.92,972.49 L1187.63,973.12 L1186.13,973.19 L1184.53,972.69 L1182.94,971.66 L1181.39,970.24 L1179.87,968.59 L1178.36,966.95 L1176.82,965.51 L1175.25,964.46 L1173.69,963.92 L1172.23,963.93 L1170.99,964.48 L1170.10,965.50 L1169.65,966.88 L1169.69,968.53 L1170.22,970.34 L1171.12,972.25 L1172.24,974.19 L1173.34,976.13 L1174.24,978.04 L1174.73,979.87 L1174.73,981.54 L1174.20,982.95 L1173.22,983.98 L1171.90,984.53 L1170.39,984.51 L1168.83,983.92 L1167.30,982.79 L1165.84,981.27 L1164.43,979.54 L1163.02,977.80 L1161.57,976.28 L1160.07,975.13 L1158.55,974.50 L1157.09,974.42 L1155.82,974.89 L1154.87,975.85 L1154.33,977.20 L1154.28,978.85 L1154.69,980.69 L1155.47,982.65 L1156.47,984.65 L1157.45,986.66 L1158.23,988.62 L1158.61,990.47 L1158.50,992.14 L1157.89,993.52 L1156.84,994.49 L1155.49,994.96 L1153.99,994.85 L1152.47,994.15 L1151.01,992.94 L1149.65,991.33 L1148.35,989.52 L1147.05,987.70 L1145.69,986.08 L1144.26,984.85 L1142.79,984.12 L1141.34,983.95 L1140.04,984.34 L1139.03,985.24 L1138.41,986.56 L1138.25,988.20 L1138.55,990.07 L1139.22,992.07 L1140.08,994.13 L1140.94,996.19 L1141.60,998.20 L1141.86,1000.07 L1141.65,1001.73 L1140.96,1003.07 L1139.85,1003.97 L1138.48,1004.35 L1136.98,1004.15 L1135.51,1003.37 L1134.13,1002.06 L1132.87,1000.38 L1131.68,998.48 L1130.49,996.59 L1129.24,994.89 L1127.89,993.57 L1126.46,992.75 L1125.03,992.50 L1123.71,992.81 L1122.64,993.64 L1121.94,994.92 L1121.69,996.55 L1121.87,998.43 L1122.41,1000.46 L1123.15,1002.58 L1123.88,1004.69 L1124.41,1006.73 L1124.56,1008.62 L1124.25,1010.26 L1123.47,1011.55 L1122.31,1012.39 L1120.91,1012.68 L1119.44,1012.39 L1118.01,1011.52 L1116.72,1010.13 L1115.56,1008.37 L1114.49,1006.41 L1113.42,1004.44 L1112.28,1002.67 L1111.01,1001.27 L1109.64,1000.37 L1108.22,1000.02 L1106.88,1000.25 L1105.77,1001.02 L1104.99,1002.25 L1104.64,1003.86 L1104.70,1005.75 L1105.12,1007.81 L1105.72,1009.97 L1106.32,1012.12 L1106.72,1014.19 L1106.76,1016.08 L1106.35,1017.70 L1105.49,1018.95 L1104.29,1019.71 L1102.87,1019.92 L1101.41,1019.53 L1100.05,1018.57 L1098.84,1017.11 L1097.79,1015.28 L1096.85,1013.26 L1095.90,1011.23 L1094.87,1009.39 L1093.69,1007.92 L1092.37,1006.93 L1090.98,1006.50 L1089.63,1006.65 L1088.47,1007.34 L1087.62,1008.53 L1087.17,1010.11 L1087.12,1012.00 L1087.40,1014.08 L1087.88,1016.27 L1088.34,1018.46 L1088.62,1020.55 L1088.54,1022.44 L1088.02,1024.03 L1087.10,1025.22 L1085.84,1025.91 L1084.42,1026.03 L1082.99,1025.55 L1081.68,1024.51 L1080.57,1022.98 L1079.64,1021.09 L1078.82,1019.01 L1078.00,1016.93 L1077.08,1015.03 L1075.99,1013.49 L1074.74,1012.42 L1073.38,1011.90 L1072.02,1011.96 L1070.82,1012.59 L1069.90,1013.72 L1069.35,1015.27 L1069.18,1017.15 L1069.34,1019.25 L1069.67,1021.46 L1070.01,1023.67 L1070.15,1025.78 L1069.95,1027.66 L1069.35,1029.22 L1068.35,1030.35 L1067.05,1030.96 L1065.62,1030.99 L1064.22,1030.43 L1062.98,1029.31 L1061.97,1027.71 L1061.15,1025.76 L1060.46,1023.64 L1059.78,1021.51 L1058.98,1019.56 L1057.99,1017.95 L1056.80,1016.81 L1055.47,1016.21 L1054.12,1016.19 L1052.88,1016.74 L1051.89,1017.81 L1051.24,1019.33 L1050.96,1021.19 L1050.99,1023.30 L1051.19,1025.53 L1051.39,1027.75 L1051.40,1029.86 L1051.09,1031.73 L1050.38,1033.25 L1049.32,1034.31 L1047.99,1034.84 L1046.56,1034.78 L1045.20,1034.14 L1044.03,1032.94 L1043.11,1031.28 L1042.42,1029.29 L1041.86,1027.13 L1041.31,1024.96 L1040.63,1022.97 L1039.74,1021.30 L1038.63,1020.09 L1037.34,1019.41 L1035.99,1019.31 L1034.71,1019.78 L1033.66,1020.78 L1032.92,1022.26 L1032.53,1024.10 L1032.43,1026.21 L1032.49,1028.44 L1032.55,1030.68 L1032.43,1032.78 L1032.00,1034.63 L1031.21,1036.10 L1030.08,1037.10 L1028.72,1037.54 L1027.30,1037.40 L1025.98,1036.67 L1024.89,1035.40 L1024.07,1033.69 L1023.50,1031.66 L1023.08,1029.47 L1022.66,1027.27 L1022.10,1025.24 L1021.32,1023.52 L1020.29,1022.24 L1019.04,1021.48 L1017.70,1021.30 L1016.40,1021.69 L1015.29,1022.63 L1014.46,1024.06 L1013.95,1025.87 L1013.72,1027.97 L1013.64,1030.20 L1013.57,1032.44 L1013.32,1034.53 L1012.78,1036.35 L1011.90,1037.77 L1010.71,1038.69 L1009.32,1039.05 L1007.91,1038.82 L1006.64,1038.01 L1005.63,1036.68 L1004.92,1034.93 L1004.48,1032.86 L1004.19,1030.65 L1003.91,1028.43 L1003.48,1026.37 L1002.80,1024.60 L1001.85,1023.26 L1000.65,1022.43 L999.32,1022.16 L998.00,1022.47 L996.83,1023.34 L995.92,1024.72 L995.30,1026.50 L994.94,1028.57 L994.73,1030.80 L994.51,1033.03 L994.14,1035.10 L993.49,1036.88 L992.52,1038.24 L991.27,1039.09 L989.87,1039.37 L988.48,1039.05 L987.26,1038.16 L986.33,1036.77 L985.73,1034.98 L985.41,1032.89 L985.26,1030.66 L985.12,1028.43 L984.82,1026.35 L984.25,1024.54 L983.38,1023.15 L982.24,1022.24 L980.93,1021.89 L979.59,1022.12 L978.37,1022.92 L977.37,1024.23 L976.65,1025.97 L976.16,1028.02 L975.81,1030.23 L975.46,1032.44 L974.95,1034.49 L974.20,1036.22 L973.14,1037.52 L971.85,1038.29 L970.43,1038.48 L969.06,1038.08 L967.90,1037.12 L967.06,1035.68 L966.57,1033.85 L966.39,1031.75 L966.37,1029.51 L966.36,1027.27 L966.19,1025.17 L965.74,1023.34 L964.95,1021.89 L963.87,1020.92 L962.58,1020.49 L961.23,1020.64 L959.97,1021.36 L958.89,1022.61 L958.06,1024.30 L957.45,1026.32 L956.96,1028.50 L956.47,1030.68 L955.85,1032.69 L954.98,1034.38 L953.85,1035.61 L952.51,1036.30 L951.09,1036.40 L949.74,1035.92 L948.64,1034.89 L947.89,1033.40 L947.52,1031.54 L947.46,1029.43 L947.59,1027.20 L947.71,1024.97 L947.67,1022.86 L947.33,1021.00 L946.64,1019.51 L945.62,1018.47 L944.36,1017.96 L943.01,1018.03 L941.70,1018.67 L940.55,1019.85 L939.61,1021.49 L938.88,1023.46 L938.26,1025.61 L937.64,1027.76 L936.89,1029.73 L935.92,1031.36 L934.72,1032.52 L933.34,1033.12 L931.91,1033.14 L930.60,1032.57 L929.56,1031.48 L928.90,1029.94 L928.64,1028.06 L928.72,1025.96 L928.98,1023.73 L929.25,1021.51 L929.33,1019.41 L929.11,1017.54 L928.51,1016.00 L927.55,1014.90 L926.33,1014.32 L924.97,1014.30 L923.63,1014.86 L922.41,1015.96 L921.37,1017.54 L920.52,1019.47 L919.77,1021.57 L919.01,1023.68 L918.14,1025.60 L917.08,1027.17 L915.81,1028.25 L914.39,1028.77 L912.96,1028.70 L911.69,1028.05 L910.72,1026.89 L910.16,1025.32 L910.02,1023.43 L910.22,1021.33 L910.62,1019.13 L911.02,1016.93 L911.24,1014.84 L911.13,1012.95 L910.63,1011.38 L909.74,1010.23 L908.55,1009.57 L907.20,1009.46 L905.82,1009.94 L904.54,1010.97 L903.41,1012.48 L902.44,1014.35 L901.56,1016.41 L900.68,1018.46 L899.69,1020.33 L898.53,1021.83 L897.20,1022.83 L895.75,1023.26 L894.33,1023.10 L893.10,1022.37 L892.20,1021.16 L891.74,1019.55 L891.72,1017.66 L892.05,1015.58 L892.58,1013.41 L893.12,1011.24 L893.46,1009.16 L893.47,1007.27 L893.06,1005.67 L892.25,1004.47 L891.11,1003.73 L889.76,1003.55 L888.36,1003.94 L887.01,1004.89 L885.79,1006.33 L884.71,1008.13 L883.70,1010.13 L882.70,1012.13 L881.60,1013.93 L880.35,1015.35 L878.95,1016.27 L877.48,1016.61 L876.08,1016.36 L874.89,1015.56 L874.07,1014.30 L873.71,1012.67 L873.80,1010.77 L874.26,1008.72 L874.93,1006.58 L875.60,1004.45 L876.07,1002.40 L876.19,1000.51 L875.88,998.89 L875.15,997.64 L874.05,996.84 L872.72,996.57 L871.30,996.87 L869.89,997.74 L868.59,999.10 L867.39,1000.83 L866.27,1002.77 L865.14,1004.70 L863.93,1006.43 L862.60,1007.77 L861.15,1008.60 L859.66,1008.85 L858.27,1008.52 L857.14,1007.65 L856.40,1006.33 L856.14,1004.68 L856.35,1002.80 L856.93,1000.77 L857.73,998.68 L858.53,996.60 L859.12,994.58 L859.36,992.70 L859.16,991.07 L858.50,989.77 L857.45,988.90 L856.14,988.55 L854.70,988.77 L853.25,989.55 L851.86,990.83 L850.56,992.48 L849.32,994.34 L848.07,996.20 L846.76,997.85 L845.35,999.11 L843.85,999.85 L842.35,1000.01 L840.99,999.59 L839.91,998.65 L839.25,997.30 L839.09,995.63 L839.41,993.76 L840.12,991.78 L841.05,989.74 L841.97,987.71 L842.69,985.73 L843.05,983.87 L842.94,982.23 L842.36,980.89 L841.37,979.96 L840.09,979.53 L838.64,979.66 L837.14,980.35 L835.67,981.54 L834.27,983.11 L832.92,984.89 L831.56,986.67 L830.15,988.24 L828.66,989.41 L827.12,990.05 L825.62,990.12 L824.28,989.62 L823.26,988.61 L822.69,987.22 L822.63,985.55 L823.07,983.71 L823.90,981.77 L824.95,979.79 L826.00,977.82 L826.84,975.89 L827.31,974.06 L827.30,972.41 L826.81,971.04 L825.88,970.05 L824.62,969.54 L823.16,969.58 L821.62,970.17 L820.09,971.27 L818.60,972.75 L817.14,974.45 L815.67,976.14 L814.17,977.62 L812.61,978.69 L811.03,979.25 L809.52,979.22 L808.22,978.63 L807.27,977.57 L806.78,976.14 L806.83,974.47 L807.38,972.66 L808.33,970.78 L809.49,968.87 L810.66,966.96 L811.62,965.09 L812.20,963.29 L812.29,961.64 L811.88,960.25 L811.02,959.20 L809.79,958.62 L808.34,958.56 L806.77,959.06 L805.17,960.06 L803.58,961.45 L802.02,963.05 L800.46,964.65 L798.87,966.03 L797.25,967.01 L795.64,967.47 L794.13,967.35 L792.87,966.68 L791.98,965.56 L791.58,964.11 L791.73,962.44 L792.39,960.67 L793.46,958.85 L794.74,957.01 L796.02,955.18 L797.09,953.37 L797.78,951.61 L797.98,949.98 L797.66,948.55 L796.86,947.46 L795.67,946.80 L794.22,946.66 L792.62,947.06 L790.96,947.96 L789.30,949.25 L787.64,950.75 L785.98,952.25 L784.31,953.53 L782.63,954.41 L780.99,954.76 L779.50,954.55 L778.28,953.81 L777.46,952.64 L777.16,951.16 L777.41,949.51 L778.18,947.77 L779.35,946.02 L780.74,944.27 L782.14,942.52 L783.32,940.78 L784.11,939.07 L784.41,937.45 L784.18,936.01 L783.44,934.87 L782.30,934.14 L780.86,933.91 L779.24,934.21 L777.53,935.00 L775.79,936.19 L774.04,937.58 L772.30,938.98 L770.55,940.15 L768.82,940.93 L767.16,941.18 L765.69,940.88 L764.51,940.06 L763.77,938.84 L763.56,937.35 L763.91,935.71 L764.78,934.03 L766.06,932.36 L767.56,930.69 L769.05,929.04 L770.34,927.37 L771.24,925.71 L771.64,924.11 L771.49,922.66 L770.83,921.48 L769.74,920.68 L768.32,920.35 L766.68,920.55 L764.92,921.25 L763.11,922.32 L761.28,923.61 L759.45,924.89 L757.63,925.96 L755.86,926.62 L754.19,926.77 L752.74,926.38 L751.62,925.49 L750.95,924.23 L750.83,922.72 L751.28,921.11 L752.26,919.49 L753.63,917.90 L755.23,916.33 L756.83,914.77 L758.22,913.18 L759.22,911.58 L759.71,910.01 L759.65,908.55 L759.07,907.33 L758.02,906.47 L756.63,906.06 L754.98,906.16 L753.18,906.74 L751.31,907.70 L749.41,908.87 L747.50,910.04 L745.62,910.99 L743.81,911.54 L742.14,911.59 L740.71,911.11 L739.64,910.16 L739.06,908.85 L739.03,907.35 L739.58,905.77 L740.65,904.21 L742.12,902.70 L743.81,901.24 L745.51,899.77 L746.99,898.28 L748.08,896.74 L748.67,895.20 L748.71,893.74 L748.20,892.49 L747.21,891.56 L745.84,891.07 L744.19,891.06 L742.36,891.53 L740.43,892.38 L738.46,893.43 L736.48,894.48 L734.55,895.31 L732.71,895.75 L731.04,895.70 L729.64,895.13 L728.64,894.11 L728.13,892.78 L728.19,891.27 L728.84,889.73 L730.01,888.24 L731.57,886.82 L733.35,885.47 L735.13,884.11 L736.70,882.71 L737.89,881.24 L738.57,879.74 L738.69,878.29 L738.26,877.01 L737.33,876.02 L735.99,875.44 L734.35,875.34 L732.50,875.69 L730.52,876.42 L728.48,877.35 L726.45,878.27 L724.46,878.98 L722.60,879.31 L720.93,879.15 L719.58,878.50 L718.64,877.42 L718.21,876.06 L718.37,874.56 L719.11,873.06 L720.37,871.64 L722.02,870.33 L723.87,869.08 L725.73,867.84 L727.39,866.54 L728.66,865.15 L729.44,863.69 L729.65,862.25 L729.30,860.94 L728.43,859.90 L727.13,859.24 L725.50,859.03 L723.62,859.28 L721.61,859.88 L719.52,860.68 L717.43,861.48 L715.41,862.07 L713.52,862.28 L711.87,862.02 L710.56,861.28 L709.68,860.15 L709.35,858.76 L709.59,857.27 L710.42,855.82 L711.77,854.49 L713.49,853.28 L715.42,852.15 L717.36,851.02 L719.09,849.82 L720.45,848.51 L721.31,847.11 L721.61,845.68 L721.34,844.35 L720.54,843.26 L719.28,842.52 L717.66,842.22 L715.78,842.34 L713.73,842.82 L711.59,843.49 L709.46,844.16 L707.40,844.62 L705.51,844.72 L703.88,844.36 L702.61,843.54 L701.81,842.36 L701.56,840.95 L701.90,839.48 L702.82,838.08 L704.24,836.83 L706.04,835.73 L708.03,834.72 L710.03,833.72 L711.83,832.63 L713.27,831.40 L714.22,830.06 L714.61,828.65 L714.42,827.31 L713.69,826.17 L712.48,825.35 L710.88,824.95 L708.99,824.96 L706.91,825.31 L704.74,825.85 L702.57,826.38 L700.49,826.72 L698.60,826.70 L696.99,826.24 L695.78,825.34 L695.05,824.11 L694.89,822.69 L695.31,821.25 L696.32,819.91 L697.81,818.75 L699.68,817.76 L701.73,816.88 L703.79,815.99 L705.65,815.02 L707.16,813.89 L708.19,812.60 L708.66,811.22 L708.56,809.87 L707.90,808.69 L706.74,807.80 L705.17,807.30 L703.29,807.19 L701.19,807.41 L698.99,807.82 L696.79,808.22 L694.70,808.42 L692.81,808.29 L691.23,807.73 L690.07,806.76 L689.42,805.49 L689.35,804.06 L689.87,802.64 L690.95,801.37 L692.51,800.30 L694.43,799.43 L696.54,798.67 L698.64,797.92 L700.57,797.06 L702.14,796.03 L703.25,794.80 L703.81,793.46 L703.78,792.10 L703.20,790.88 L702.10,789.93 L700.56,789.33 L698.69,789.10 L696.58,789.20 L694.36,789.46 L692.14,789.73 L690.04,789.81 L688.16,789.55 L686.62,788.90 L685.53,787.86 L684.96,786.55 L684.97,785.12 L685.57,783.74 L686.73,782.54 L688.36,781.57 L690.33,780.81 L692.47,780.19 L694.62,779.57 L696.59,778.83 L698.23,777.89 L699.41,776.74 L700.05,775.43 L700.11,774.08 L699.60,772.82 L698.56,771.80 L697.07,771.11 L695.21,770.77 L693.10,770.73 L690.87,770.86 L688.64,770.99 L686.53,770.94 L684.67,770.57 L683.18,769.82 L682.15,768.72 L681.66,767.37 L681.76,765.95 L682.45,764.61 L683.68,763.48 L685.36,762.61 L687.38,761.98 L689.56,761.49 L691.74,761.00 L693.75,760.38 L695.45,759.55 L696.69,758.47 L697.41,757.20 L697.56,755.86 L697.13,754.57 L696.15,753.49 L694.70,752.71 L692.87,752.26 L690.77,752.09 L688.53,752.08 L686.30,752.07 L684.20,751.89 L682.36,751.41 L680.92,750.57 L679.96,749.40 L679.55,748.03 L679.74,746.62 L680.51,745.32 L681.81,744.27 L683.54,743.51 L685.59,743.00 L687.80,742.64 L690.01,742.29 L692.05,741.80 L693.79,741.07 L695.11,740.07 L695.90,738.85 L696.13,737.52 L695.78,736.21 L694.87,735.07 L693.47,734.20 L691.67,733.63 L689.58,733.33 L687.35,733.19 L685.12,733.04 L683.04,732.73 L681.24,732.14 L679.85,731.21 L678.96,729.99 L678.64,728.60 L678.91,727.20 L679.76,725.95 L681.12,724.98 L682.90,724.32 L684.97,723.95 L687.20,723.73 L689.43,723.51 L691.50,723.15 L693.28,722.53 L694.65,721.61 L695.52,720.44 L695.83,719.12 L695.56,717.79 L694.73,716.60 L693.38,715.64 L691.62,714.97 L689.56,714.55 L687.34,714.26 L685.12,713.98 L683.06,713.54 L681.30,712.84 L679.97,711.83 L679.16,710.55 L678.93,709.14 L679.29,707.76 L680.21,706.57 L681.63,705.68 L683.44,705.14 L685.53,704.89 L687.77,704.81 L690.00,704.73 L692.10,704.49 L693.91,703.98 L695.34,703.16 L696.28,702.04 L696.67,700.74 L696.48,699.40 L695.72,698.16 L694.44,697.12 L692.72,696.34 L690.69,695.79 L688.49,695.37 L686.29,694.95 L684.26,694.39 L682.55,693.58 L681.28,692.48 L680.55,691.17 L680.41,689.74 L680.85,688.39 L681.85,687.25 L683.32,686.46 L685.16,686.03 L687.27,685.91 L689.50,685.96 L691.74,686.02 L693.84,685.91 L695.69,685.52 L697.16,684.78 L698.16,683.72 L698.63,682.45 L698.53,681.10 L697.85,679.81 L696.63,678.70 L694.96,677.81 L692.97,677.14 L690.80,676.59 L688.64,676.03 L686.64,675.34 L684.98,674.43 L683.79,673.26 L683.14,671.90 L683.08,670.47 L683.61,669.14 L684.67,668.07 L686.19,667.37 L688.06,667.05 L690.16,667.06 L692.39,667.26 L694.62,667.45 L696.72,667.48 L698.59,667.19 L700.11,666.55 L701.18,665.56 L701.72,664.32 L701.70,662.96 L701.10,661.63 L699.95,660.45 L698.34,659.46 L696.39,658.66 L694.27,657.98 L692.14,657.29 L690.19,656.48 L688.59,655.47 L687.47,654.23 L686.91,652.83 L686.94,651.40 L687.54,650.11 L688.67,649.11 L690.23,648.50 L692.11,648.30 L694.21,648.44 L696.43,648.77 L698.64,649.10 L700.74,649.25 L702.62,649.08 L704.17,648.53 L705.30,647.61 L705.92,646.40 L705.98,645.05 L705.46,643.69 L704.39,642.43 L702.85,641.35 L700.95,640.44 L698.87,639.62 L696.79,638.80 L694.89,637.88 L693.36,636.76 L692.32,635.46 L691.84,634.03 L691.96,632.60 L692.65,631.35 L693.83,630.42 L695.42,629.91 L697.31,629.82 L699.40,630.09 L701.59,630.56 L703.78,631.03 L705.87,631.31 L707.75,631.26 L709.34,630.80 L710.52,629.95 L711.21,628.79 L711.36,627.44 L710.93,626.05 L709.94,624.73 L708.46,623.55 L706.62,622.52 L704.59,621.58 L702.57,620.64 L700.73,619.60 L699.27,618.39 L698.31,617.02 L697.92,615.57 L698.13,614.15 L698.89,612.94 L700.13,612.09 L701.75,611.67 L703.64,611.71 L705.71,612.10 L707.87,612.70 L710.02,613.30 L712.09,613.71 L713.98,613.78 L715.58,613.42 L716.82,612.64 L717.58,611.53 L717.81,610.19 L717.46,608.77 L716.56,607.40 L715.15,606.13 L713.38,604.99 L711.42,603.93 L709.45,602.86 L707.69,601.71 L706.30,600.42 L705.43,598.99 L705.13,597.51 L705.42,596.12 L706.26,594.96 L707.55,594.18 L709.19,593.86 L711.08,594.01 L713.12,594.54 L715.23,595.27 L717.35,596.00 L719.38,596.54 L721.26,596.72 L722.89,596.46 L724.17,595.76 L725.00,594.69 L725.31,593.37 L725.05,591.94 L724.23,590.51 L722.91,589.16 L721.21,587.91 L719.32,586.73 L717.42,585.54 L715.73,584.28 L714.43,582.91 L713.64,581.43 L713.43,579.94 L713.81,578.56 L714.72,577.45 L716.05,576.76 L717.71,576.54 L719.59,576.81 L721.59,577.46 L723.66,578.32 L725.72,579.18 L727.72,579.84 L729.58,580.14 L731.23,579.98 L732.54,579.36 L733.44,578.34 L733.83,577.05 L733.66,575.60 L732.93,574.12 L731.69,572.69 L730.08,571.34 L728.26,570.05 L726.44,568.75 L724.83,567.38 L723.61,565.93 L722.92,564.41 L722.81,562.91 L723.27,561.56 L724.24,560.51 L725.62,559.89 L727.28,559.78 L729.14,560.17 L731.10,560.94 L733.11,561.92 L735.12,562.91 L737.07,563.69 L738.91,564.10 L740.56,564.04 L741.91,563.51 L742.87,562.55 L743.34,561.28 L743.26,559.82 L742.62,558.30 L741.48,556.80 L739.95,555.35 L738.21,553.95 L736.47,552.54 L734.95,551.08 L733.83,549.55 L733.23,547.99 L733.21,546.49 L733.75,545.17 L734.79,544.18 L736.20,543.65 L737.87,543.64 L739.70,544.14 L741.61,545.03 L743.55,546.14 L745.49,547.24 L747.40,548.15 L749.21,548.67 L750.86,548.71 L752.24,548.26 L753.26,547.36 L753.80,546.12 L753.81,544.67 L753.27,543.11 L752.22,541.54 L750.78,540.00 L749.13,538.49 L747.49,536.98 L746.06,535.43 L745.03,533.84 L744.53,532.24 L744.60,530.74 L745.22,529.45 L746.32,528.53 L747.76,528.09 L749.43,528.19 L751.22,528.79 L753.07,529.80 L754.95,531.02 L756.82,532.25 L758.66,533.27 L760.44,533.90 L762.08,534.05 L763.49,533.68 L764.56,532.85 L765.18,531.64 L765.28,530.19 L764.83,528.60 L763.88,526.97 L762.54,525.35 L760.99,523.74 L759.44,522.13 L758.11,520.49 L757.18,518.84 L756.77,517.22 L756.94,515.72 L757.64,514.47 L758.79,513.62 L760.26,513.27 L761.92,513.47 L763.67,514.19 L765.46,515.30 L767.25,516.64 L769.04,517.98 L770.82,519.11 L772.55,519.85 L774.18,520.10 L775.61,519.82 L776.73,519.05 L777.43,517.89 L777.62,516.44 L777.27,514.83 L776.42,513.15 L775.18,511.44 L773.73,509.74 L772.28,508.04 L771.05,506.32 L770.23,504.62 L769.92,502.97 L770.18,501.49 L770.96,500.29 L772.16,499.51 L773.64,499.25 L775.29,499.55 L776.99,500.37 L778.71,501.60 L780.42,503.04 L782.12,504.49 L783.83,505.73 L785.51,506.57 L787.12,506.92 L788.57,506.73 L789.73,506.03 L790.50,504.92 L790.77,503.48 L790.52,501.86 L789.78,500.12 L788.65,498.34 L787.31,496.56 L785.97,494.76 L784.85,492.98 L784.13,491.23 L783.93,489.57 L784.27,488.10 L785.12,486.95 L786.37,486.25 L787.87,486.08 L789.49,486.48 L791.14,487.41 L792.78,488.74 L794.39,490.28 L796.00,491.83 L797.63,493.17 L799.26,494.12 L800.85,494.57 L802.30,494.46 L803.51,493.84 L804.34,492.77 L804.70,491.36 L804.55,489.72 L803.92,487.94 L802.90,486.10 L801.67,484.23 L800.44,482.36 L799.43,480.51 L798.82,478.72 L798.73,477.05 L799.16,475.61 L800.08,474.51 L801.37,473.88 L802.87,473.81 L804.47,474.31 L806.06,475.34 L807.61,476.76 L809.13,478.41 L810.64,480.05 L812.18,481.49 L813.75,482.54 L815.31,483.08 L816.77,483.07 L818.01,482.52 L818.90,481.50 L819.35,480.12 L819.31,478.47 L818.78,476.66 L817.88,474.75 L816.76,472.81 L815.66,470.87 L814.76,468.96 L814.27,467.13 L814.27,465.46 L814.80,464.05 L815.78,463.02 L817.10,462.47 L818.61,462.49 L820.17,463.08 L821.70,464.21 L823.16,465.73 L824.57,467.46 L825.98,469.20 L827.43,470.72 L828.93,471.87 L830.45,472.50 L831.91,472.58 L833.18,472.11 L834.13,471.15 L834.67,469.80 L834.72,468.15 L834.31,466.31 L833.53,464.35 L832.53,462.35 L831.55,460.34 L830.77,458.38 L830.39,456.53 L830.50,454.86 L831.11,453.48 L832.16,452.51 L833.51,452.04 L835.01,452.15 L836.53,452.85 L837.99,454.06 L839.35,455.67 L840.65,457.48 L841.95,459.30 L843.31,460.92 L844.74,462.15 L846.21,462.88 L847.66,463.05 L848.96,462.66 L849.97,461.76 L850.59,460.44 L850.75,458.80 L850.45,456.93 L849.78,454.93 L848.92,452.87 L848.06,450.81 L847.40,448.80 L847.14,446.93 L847.35,445.27 L848.04,443.93 L849.15,443.03 L850.52,442.65 L852.02,442.85 L853.49,443.63 L854.87,444.94 L856.13,446.62 L857.32,448.52 L858.51,450.41 L859.76,452.11 L861.11,453.43 L862.54,454.25 L863.97,454.50 L865.29,454.19 L866.36,453.36 L867.06,452.08 L867.31,450.45 L867.13,448.57 L866.59,446.54 L865.85,444.42 L865.12,442.31 L864.59,440.27 L864.44,438.38 L864.75,436.74 L865.53,435.45 L866.69,434.61 L868.09,434.32 L869.56,434.61 L870.99,435.48 L872.28,436.87 L873.44,438.63 L874.51,440.59 L875.58,442.56 L876.72,444.33 L877.99,445.73 L879.36,446.63 L880.78,446.98 L882.12,446.75 L883.23,445.98 L884.01,444.75 L884.36,443.14 L884.30,441.25 L883.88,439.19 L883.28,437.03 L882.68,434.88 L882.28,432.81 L882.24,430.92 L882.65,429.30 L883.51,428.05 L884.71,427.29 L886.13,427.08 L887.59,427.47 L888.95,428.43 L890.16,429.89 L891.21,431.72 L892.15,433.74 L893.10,435.77 L894.13,437.61 L895.31,439.08 L896.63,440.07 L898.02,440.50 L899.37,440.35 L900.53,439.66 L901.38,438.47 L901.83,436.89 L901.88,435.00 L901.60,432.92 L901.12,430.73 L900.66,428.54 L900.38,426.45 L900.46,424.56 L900.98,422.97 L901.90,421.78 L903.16,421.09 L904.58,420.97 L906.01,421.45 L907.32,422.49 L908.43,424.02 L909.36,425.91 L910.18,427.99 L911.00,430.07 L911.92,431.97 L913.01,433.51 L914.26,434.58 L915.62,435.10 L916.98,435.04 L918.18,434.41 L919.10,433.28 L919.65,431.73 L919.82,429.85 L919.66,427.75 L919.33,425.54 L918.99,423.33 L918.85,421.22 L919.05,419.34 L919.65,417.78 L920.65,416.65 L921.95,416.04 L923.38,416.01 L924.78,416.57 L926.02,417.69 L927.03,419.29 L927.85,421.24 L928.54,423.36 L929.22,425.49 L930.02,427.44 L931.01,429.05 L932.20,430.19 L933.53,430.79 L934.88,430.81 L936.12,430.26 L937.11,429.19 L937.76,427.67 L938.04,425.81 L938.01,423.70 L937.81,421.47 L937.61,419.25 L937.60,417.14 L937.91,415.27 L938.62,413.75 L939.68,412.69 L941.01,412.16 L942.44,412.22 L943.80,412.86 L944.97,414.06 L945.89,415.72 L946.58,417.71 L947.14,419.87 L947.69,422.04 L948.37,424.03 L949.26,425.70 L950.37,426.91 L951.66,427.59 L953.01,427.69 L954.29,427.22 L955.34,426.22 L956.08,424.74 L956.47,422.90 L956.57,420.79 L956.51,418.56 L956.45,416.32 L956.57,414.22 L957.00,412.37 L957.79,410.90 L958.92,409.90 L960.28,409.46 L961.70,409.60 L963.02,410.33 L964.11,411.60 L964.93,413.31 L965.50,415.34 L965.92,417.53 L966.34,419.73 L966.90,421.76 L967.68,423.48 L968.71,424.76 L969.96,425.52 L971.30,425.70 L972.60,425.31 L973.71,424.37 L974.54,422.94 L975.05,421.13 L975.28,419.03 L975.36,416.80 L975.43,414.56 L975.68,412.47 L976.22,410.65 L977.10,409.23 L978.29,408.31 L979.68,407.95 L981.09,408.18 L982.36,408.99 L983.37,410.32 L984.08,412.07 L984.52,414.14 L984.81,416.35 L985.09,418.57 L985.52,420.63 L986.20,422.40 L987.15,423.74 L988.35,424.57 L989.68,424.84 L991.00,424.53 L992.17,423.66 L993.08,422.28 L993.70,420.50 L994.06,418.43 L994.27,416.20 L994.49,413.97 L994.86,411.90 L995.51,410.12 L996.48,408.76 L997.73,407.91 L999.13,407.63Z" fill="none" stroke="#9b9b9b" stroke-width="4.3" stroke-linejoin="round"/>
<circle cx="994.5" cy="723.5" r="290.8" fill="#ffffff" stroke="#2e2e2e" stroke-width="1.4"/>
<rect x="757.15" y="529.10" width="260.30" height="139.80" rx="69.90" fill="#c8c9c9" stroke="#2e2e2e" stroke-width="1.5"/>
<circle cx="949.0" cy="599.0" r="61.6" fill="#c6da86" stroke="#2e2e2e" stroke-width="1.4"/>
<circle cx="949.0" cy="599.0" r="24.3" fill="#9a9a9a" stroke="#2e2e2e" stroke-width="1.4"/>
<circle cx="825.6" cy="599.0" r="61.6" fill="#ffffff" stroke="#2e2e2e" stroke-width="1.4"/>
<path d="M764.0,599.0 A61.6,61.6 0 0 1 887.2,599.0 Z" fill="#c6da86" stroke="#2e2e2e" stroke-width="1.4"/>
<circle cx="825.6" cy="599.0" r="24.3" fill="#9a9a9a" stroke="#2e2e2e" stroke-width="1.4"/>
<rect x="1045.60" y="481.20" width="139.80" height="260.30" rx="69.90" fill="#c8c9c9" stroke="#2e2e2e" stroke-width="1.5"/>
<circle cx="1115.5" cy="550.0" r="61.6" fill="#e9b75e" stroke="#2e2e2e" stroke-width="1.4"/>
<circle cx="1115.5" cy="550.0" r="24.3" fill="#9a9a9a" stroke="#2e2e2e" stroke-width="1.4"/>
<circle cx="1115.5" cy="672.7" r="61.6" fill="#ffffff" stroke="#2e2e2e" stroke-width="1.4"/>
<path d="M1115.5,611.1 A61.6,61.6 0 0 0 1115.5,734.3000000000001 Z" fill="#e9b75e" stroke="#2e2e2e" stroke-width="1.4"/>
<circle cx="1115.5" cy="672.7" r="24.3" fill="#9a9a9a" stroke="#2e2e2e" stroke-width="1.4"/>
<rect x="803.10" y="695.55" width="139.80" height="260.30" rx="69.90" fill="#c8c9c9" stroke="#2e2e2e" stroke-width="1.5"/>
<circle cx="873.0" cy="764.1" r="61.6" fill="#a5d1e2" stroke="#2e2e2e" stroke-width="1.4"/>
<circle cx="873.0" cy="764.1" r="24.3" fill="#9a9a9a" stroke="#2e2e2e" stroke-width="1.4"/>
<circle cx="873.0" cy="887.3" r="61.6" fill="#ffffff" stroke="#2e2e2e" stroke-width="1.4"/>
<path d="M873.0,825.6999999999999 A61.6,61.6 0 0 0 873.0,948.9 Z" fill="#a5d1e2" stroke="#2e2e2e" stroke-width="1.4"/>
<circle cx="873.0" cy="887.3" r="24.3" fill="#9a9a9a" stroke="#2e2e2e" stroke-width="1.4"/>
<rect x="972.15" y="769.60" width="260.30" height="139.80" rx="69.90" fill="#c8c9c9" stroke="#2e2e2e" stroke-width="1.5"/>
<circle cx="1164.1" cy="839.5" r="61.6" fill="#b8a089" stroke="#2e2e2e" stroke-width="1.4"/>
<circle cx="1164.1" cy="839.5" r="24.3" fill="#9a9a9a" stroke="#2e2e2e" stroke-width="1.4"/>
<circle cx="1040.5" cy="839.5" r="61.6" fill="#ffffff" stroke="#2e2e2e" stroke-width="1.4"/>
<path d="M978.9,839.5 A61.6,61.6 0 0 1 1102.1,839.5 Z" fill="#b8a089" stroke="#2e2e2e" stroke-width="1.4"/>
<circle cx="1040.5" cy="839.5" r="24.3" fill="#9a9a9a" stroke="#2e2e2e" stroke-width="1.4"/>
<polyline points="569.4,466.2 652.7,466.2 714.7,518.4" stroke="#000" stroke-width="2.2" fill="none" stroke-linejoin="miter"/>
<polyline points="1420.4,467.8 1336.1,467.8 1185.8,594.6" stroke="#000" stroke-width="2.2" fill="none" stroke-linejoin="miter"/>
<polyline points="492.1,722.3 685.7,722.3" stroke="#000" stroke-width="2.2" fill="none" stroke-linejoin="miter"/>
<polyline points="1118.2,673.4 1413.9,720.9 1499.8,720.9" stroke="#000" stroke-width="2.2" fill="none" stroke-linejoin="miter"/>
<polyline points="589.4,981.7 675.6,981.7 802,893.5" stroke="#000" stroke-width="2.2" fill="none" stroke-linejoin="miter"/>
<polyline points="1042.6,885.9 1080.7,982.6 1435.2,982.6" stroke="#000" stroke-width="2.2" fill="none" stroke-linejoin="miter"/>
<polyline points="1159.4,885.4 1191,982.6" stroke="#000" stroke-width="2.2" fill="none" stroke-linejoin="miter"/>
<text x="409.60" y="459.80" font-family="Liberation Sans" font-weight="bold" font-size="23.48" textLength="148.68" lengthAdjust="spacingAndGlyphs" fill="#000"  stroke="#000" stroke-width="0.7" stroke-linejoin="round">Außenmantel</text>
<text x="419.20" y="488.70" font-family="Liberation Sans" font-weight="normal" font-size="22.17" textLength="130.57" lengthAdjust="spacingAndGlyphs" fill="#000" >Outer jacket</text>
<text x="1430.70" y="459.70" font-family="Liberation Sans" font-weight="bold" font-size="23.33" textLength="159.99" lengthAdjust="spacingAndGlyphs" fill="#000"  stroke="#000" stroke-width="0.7" stroke-linejoin="round">Aderisolierung</text>
<text x="1464.80" y="488.30" font-family="Liberation Sans" font-weight="normal" font-size="22.17" textLength="91.29" lengthAdjust="spacingAndGlyphs" fill="#000" >Isolation</text>
<text x="270.60" y="718.20" font-family="Liberation Sans" font-weight="bold" font-size="23.33" textLength="210.11" lengthAdjust="spacingAndGlyphs" fill="#000"  stroke="#000" stroke-width="0.7" stroke-linejoin="round">Geflechtschirmung</text>
<text x="311.70" y="746.80" font-family="Liberation Sans" font-weight="normal" font-size="22.17" textLength="127.61" lengthAdjust="spacingAndGlyphs" fill="#000" >Braid shield</text>
<text x="1511.20" y="717.40" font-family="Liberation Sans" font-weight="bold" font-size="22.46" textLength="96.50" lengthAdjust="spacingAndGlyphs" fill="#000"  stroke="#000" stroke-width="0.7" stroke-linejoin="round">Cu-Draht</text>
<text x="1518.80" y="745.60" font-family="Liberation Sans" font-weight="normal" font-size="22.17" textLength="80.38" lengthAdjust="spacingAndGlyphs" fill="#000" >Cu-Wire</text>
<text x="385.30" y="976.80" font-family="Liberation Sans" font-weight="bold" font-size="22.90" textLength="192.20" lengthAdjust="spacingAndGlyphs" fill="#000"  stroke="#000" stroke-width="0.7" stroke-linejoin="round">Paarabschirmung</text>
<text x="421.30" y="1005.60" font-family="Liberation Sans" font-weight="normal" font-size="22.17" textLength="119.71" lengthAdjust="spacingAndGlyphs" fill="#000" >Pair screen</text>
<text x="1446.10" y="976.00" font-family="Liberation Sans" font-weight="bold" font-size="22.32" textLength="126.81" lengthAdjust="spacingAndGlyphs" fill="#000"  stroke="#000" stroke-width="0.7" stroke-linejoin="round">Adernpaare</text>
<text x="1446.60" y="1004.50" font-family="Liberation Sans" font-weight="normal" font-size="22.17" textLength="127.72" lengthAdjust="spacingAndGlyphs" fill="#000" >Twisted pair</text>
</svg>
</body></html>
